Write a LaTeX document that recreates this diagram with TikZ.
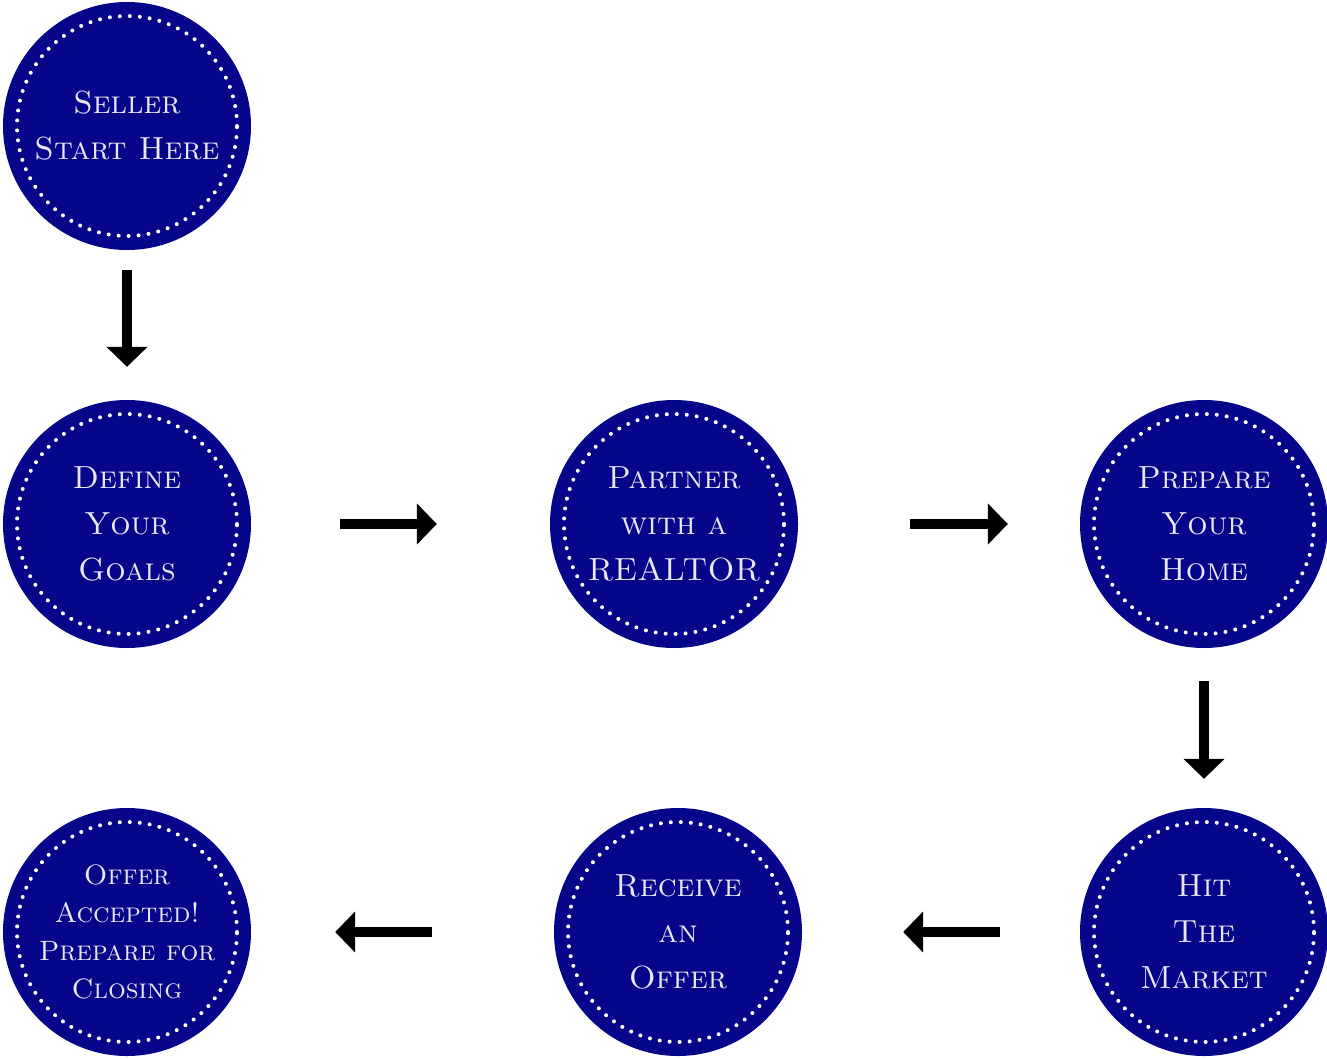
\documentclass[tikz,border=0pt]{standalone}
\usepackage{tikz}
\usepackage{xcolor}
\usetikzlibrary{arrows.meta}
\definecolor{nvblue}{RGB}{6,6,138}
\definecolor{nvtext}{RGB}{232,232,242}
\tikzset{nvc/.style={circle, fill=nvblue, minimum size=248pt, inner sep=0pt, text=nvtext, align=center,
        font=\fontsize{32}{46}\selectfont\scshape,
        path picture={\draw[white, line width=4pt, line cap=round, dash pattern=on 0pt off 10pt]
            (path picture bounding box.center) circle (110pt);}},
    arw/.style={line width=10pt, -{Triangle[width=40pt, length=20pt]}}}

\begin{document}
\begin{tikzpicture}[x=1pt, y=-1pt]
                        \useasboundingbox (0, 0) rectangle (1327, 1059);

                        \node[nvc] (seller) at (127, 126) {Seller\\Start Here};
                        \node[nvc] (goals) at (127, 524) {Define\\Your\\Goals};
                        \node[nvc] (realtor) at (674, 524) {Partner\\with a\\REALTOR};
                        \node[nvc] (prep) at (1204, 524) {Prepare\\Your\\Home};
                        \node[nvc] (market) at (1204, 932) {Hit\\The\\Market};
                        \node[nvc] (offer) at (678, 932) {Receive\\an\\Offer};
                        \node[nvc, font=\fontsize{28}{38}\selectfont\scshape] (closing) at (127, 932)
                            {Offer\\Accepted!\\Prepare for\\Closing};

                        \draw[arw]
                        (seller) edge[shorten <=20pt, shorten >=33pt] (goals)
                        (goals) edge[shorten <=89pt, shorten >=113pt] (realtor)
                        (realtor) edge[shorten <=112pt, shorten >=72pt] (prep)
                        (prep) edge[shorten <=33pt, shorten >=29pt] (market)
                        (market) edge[shorten <=80pt, shorten >=101pt] (offer)
                        (offer) edge[shorten <=122pt, shorten >=84pt] (closing);
                    \end{tikzpicture}
\end{document}
